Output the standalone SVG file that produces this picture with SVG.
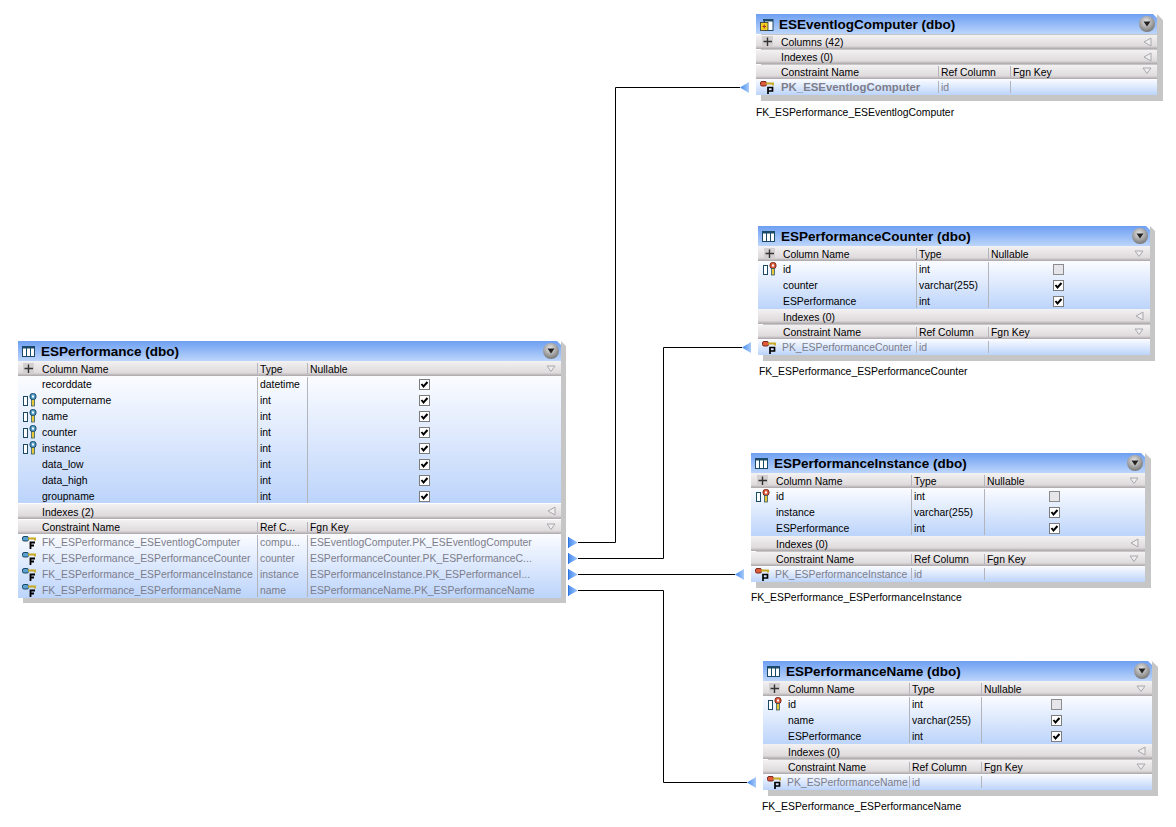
<svg xmlns="http://www.w3.org/2000/svg" xmlns:xlink="http://www.w3.org/1999/xlink" width="1176" height="827" viewBox="0 0 1176 827">
<style>
text{font-family:"Liberation Sans",Arial,sans-serif;font-size:10.4px;fill:#000}
.t{font-weight:bold;font-size:13.5px}
.g{fill:#7d7d8a}
.pk{font-weight:bold;font-size:11.4px;fill:#7d7d8a}
.shadow{fill:#c6c6c6}
.title{fill:url(#gT)}
.bar{fill:url(#gH)}
.body{fill:url(#gB)}
.sep{stroke:#b4b4bc;stroke-width:1;fill:none}
.conn{fill:none;stroke:#000;stroke-width:1}
</style>
<defs>
<linearGradient id="gT" x1="0" y1="0" x2="0" y2="1"><stop offset="0" stop-color="#6d9ff2"/><stop offset="1" stop-color="#bcd5fb"/></linearGradient>
<linearGradient id="gH" x1="0" y1="0" x2="0" y2="1"><stop offset="0" stop-color="#f3f1f2"/><stop offset=".78" stop-color="#dfdbdd"/><stop offset="1" stop-color="#a9a5a8"/></linearGradient>
<linearGradient id="gB" x1="0" y1="0" x2="0" y2="1"><stop offset="0" stop-color="#fbfcff"/><stop offset="1" stop-color="#bcd4fb"/></linearGradient>
<radialGradient id="gBall" cx=".45" cy=".35" r=".7"><stop offset="0" stop-color="#e8e8e8"/><stop offset="1" stop-color="#6f6f6f"/></radialGradient>
<linearGradient id="gA" x1="0" y1="0" x2="1" y2="0"><stop offset="0" stop-color="#3f86ee"/><stop offset="1" stop-color="#a9ccf8"/></linearGradient>
<g id="ball"><circle cx="0" cy="0" r="8" fill="url(#gBall)"/><path d="M-3.5-2.5H3.5L0 2.5Z" fill="#222"/></g>
<g id="tbl"><rect x=".5" y=".5" width="12" height="10" fill="#fff" stroke="#1c4a66"/><rect x="0" y="0" width="13" height="2.5" fill="#1c4a66"/><path d="M4.5 2V11M8.5 2V11" stroke="#1c4a66"/></g>
<g id="plus"><rect x="0" y="0" width="11" height="11" fill="#d4d0d2"/><path d="M5.5 1.5V10M1.5 5.5H10" stroke="#333" stroke-width="1.4"/></g>
<path id="dn" d="M0 0H8L4 5.5Z" fill="#eee" stroke="#a8a8ae"/>
<path id="lf" d="M7 0V8L0 4Z" fill="#eee" stroke="#a8a8ae"/>
<g id="ck"><rect x=".5" y=".5" width="10" height="10" fill="#fff" stroke="#7c7c7c"/><path d="M2.5 5L4.5 7.5L8.5 3" fill="none" stroke="#000" stroke-width="2"/></g>
<g id="unck"><rect x=".5" y=".5" width="10" height="10" fill="#e6e6ea" stroke="#8c8c8c"/></g>
<g id="colk"><rect x=".5" y="3.5" width="4" height="9" fill="#fff" stroke="#1c4a66"/><rect x="7" y=".5" width="6" height="6" rx="2.5" fill="#4f9ac8" stroke="#1c4a66"/><rect x="9" y="2.5" width="2" height="2" fill="#fff"/><rect x="8.5" y="6.5" width="3" height="6.5" fill="#e6c93a" stroke="#1c4a66" stroke-width=".7"/></g>
<g id="colp"><rect x=".5" y="3.5" width="4" height="9" fill="#fff" stroke="#1c4a66"/><rect x="7" y=".5" width="6" height="6" rx="2.5" fill="#e05a3c" stroke="#7a2a1a"/><rect x="9" y="2.5" width="2" height="2" fill="#fff"/><rect x="8.5" y="6.5" width="3" height="6.5" fill="#e6c93a" stroke="#1c4a66" stroke-width=".7"/></g>
<g id="fk"><rect x=".5" y=".5" width="6" height="4.5" rx="1.5" fill="#5aa0d0" stroke="#1c4a66"/><path d="M6 2.5H13V4.5" fill="none" stroke="#c8a820" stroke-width="1.8"/><path d="M8.5 13V6.5H13M8.5 9.5H12" fill="none" stroke="#000" stroke-width="1.8"/></g>
<g id="pk"><rect x=".5" y=".5" width="6" height="4.5" rx="1.5" fill="#e05a3c" stroke="#7a2a1a"/><path d="M6 2.5H13V4.5" fill="none" stroke="#c8a820" stroke-width="1.8"/><path d="M8 13V6.5H12.5V10H8" fill="none" stroke="#000" stroke-width="1.7"/></g>
<g id="arrR"><path d="M0-5.5L10 0L0 5.5Z" fill="url(#gA)"/><path d="M.5-5.5V5.5" stroke="#2f74e0"/></g>
<path id="arrL" d="M9-5.5L0 0L9 5.5Z" fill="url(#gA)"/>
</defs>
<rect width="1176" height="827" fill="#fff"/>
<g id="connectors">
<path class="conn" d="M578 542.5H615.5V87.5H740"/>
<path class="conn" d="M578 558.5H663.5V347.5H742"/>
<path class="conn" d="M578 574.5H735"/>
<path class="conn" d="M578 590.5H663.5V782.5H747"/>
<use xlink:href="#arrR" href="#arrR" x="568" y="542.5"/>
<use xlink:href="#arrR" href="#arrR" x="568" y="558.5"/>
<use xlink:href="#arrR" href="#arrR" x="568" y="574.5"/>
<use xlink:href="#arrR" href="#arrR" x="568" y="590.5"/>
<use xlink:href="#arrL" href="#arrL" x="740" y="87.5"/>
<use xlink:href="#arrL" href="#arrL" x="742" y="347.5"/>
<use xlink:href="#arrL" href="#arrL" x="735" y="574.5"/>
<use xlink:href="#arrL" href="#arrL" x="747" y="782.5"/>
</g>

<g id="ESPerformance">
<path class="shadow" d="M23 346H561V341L566 346V603H23Z"/>
<path class="title" d="M18 341H557L561 345V361H18Z"/>
<rect class="bar" x="18" y="361" width="543" height="15"/>
<rect class="body" x="18" y="376" width="543" height="128"/>
<rect x="18" y="503" width="543" height="1" fill="#fff"/>
<rect class="bar" x="18" y="504" width="543" height="15"/>
<rect x="18" y="519" width="543" height="1" fill="#fff"/>
<rect class="bar" x="18" y="520" width="543" height="14"/>
<rect class="body" x="18" y="534" width="543" height="64"/>
<use href="#tbl" x="22" y="346"/><text class="t" x="41" y="356">ESPerformance (dbo)</text>
<use href="#ball" x="551" y="351"/>
<use href="#plus" x="23" y="363"/>
<text x="42" y="373">Column Name</text><text x="260" y="373">Type</text><text x="310" y="373">Nullable</text>
<use href="#dn" x="547" y="366"/>
<path class="sep" d="M257.5 363V374M307.5 363V374M257.5 377V503M307.5 377V503M257.5 522V532M307.5 522V532M257.5 535V597M307.5 535V597"/>
<text x="42" y="388">recorddate</text><text x="260" y="388">datetime</text>
<text x="42" y="404">computername</text><text x="260" y="404">int</text>
<text x="42" y="420">name</text><text x="260" y="420">int</text>
<text x="42" y="436">counter</text><text x="260" y="436">int</text>
<text x="42" y="452">instance</text><text x="260" y="452">int</text>
<text x="42" y="468">data_low</text><text x="260" y="468">int</text>
<text x="42" y="484">data_high</text><text x="260" y="484">int</text>
<text x="42" y="500">groupname</text><text x="260" y="500">int</text>
<use href="#colk" x="23" y="393"/><use href="#colk" x="23" y="409"/><use href="#colk" x="23" y="425"/><use href="#colk" x="23" y="441"/>
<use href="#ck" x="419" y="379"/><use href="#ck" x="419" y="395"/><use href="#ck" x="419" y="411"/><use href="#ck" x="419" y="427"/><use href="#ck" x="419" y="443"/><use href="#ck" x="419" y="459"/><use href="#ck" x="419" y="475"/><use href="#ck" x="419" y="491"/>
<text x="42" y="516">Indexes (2)</text><use href="#lf" x="548" y="507"/>
<text x="42" y="531">Constraint Name</text><text x="260" y="531">Ref C...</text><text x="310" y="531">Fgn Key</text><use href="#dn" x="547" y="524"/>
<use href="#fk" x="22" y="536"/><use href="#fk" x="22" y="552"/><use href="#fk" x="22" y="568"/><use href="#fk" x="22" y="584"/>
<text class="g" x="42" y="546">FK_ESPerformance_ESEventlogComputer</text><text class="g" x="260" y="546">compu...</text><text class="g" x="310" y="546">ESEventlogComputer.PK_ESEventlogComputer</text>
<text class="g" x="42" y="562">FK_ESPerformance_ESPerformanceCounter</text><text class="g" x="260" y="562">counter</text><text class="g" x="310" y="562">ESPerformanceCounter.PK_ESPerformanceC...</text>
<text class="g" x="42" y="578">FK_ESPerformance_ESPerformanceInstance</text><text class="g" x="260" y="578">instance</text><text class="g" x="310" y="578">ESPerformanceInstance.PK_ESPerformanceI...</text>
<text class="g" x="42" y="594">FK_ESPerformance_ESPerformanceName</text><text class="g" x="260" y="594">name</text><text class="g" x="310" y="594">ESPerformanceName.PK_ESPerformanceName</text>
</g>

<g id="ESEventlogComputer">
<path class="shadow" d="M761 19H1157V14L1163 20V101H761Z"/>
<path class="title" d="M756 14H1153L1157 18V34H756Z"/>
<rect class="bar" x="756" y="35" width="401" height="14"/>
<rect class="bar" x="756" y="50" width="401" height="14"/>
<rect class="bar" x="756" y="65" width="401" height="14"/>
<rect class="body" x="756" y="79" width="401" height="16"/>
<g transform="translate(760,19)"><rect x="4.5" y=".5" width="8.5" height="11" fill="#fff" stroke="#1c4a66"/><rect x="3" y="0" width="10" height="2.5" fill="#1c4a66"/><rect x=".5" y="3.5" width="7.5" height="8" fill="#f0d020" stroke="#333" stroke-width=".8"/><path d="M2.5 7.5H6M4.2 5.5V9.5" stroke="#a02020" stroke-width=".9"/></g>
<text class="t" x="779" y="29">ESEventlogComputer (dbo)</text>
<use href="#ball" x="1147" y="24"/>
<use href="#plus" x="762" y="36"/>
<text x="781" y="46">Columns (42)</text><use href="#lf" x="1144" y="38"/>
<text x="781" y="61">Indexes (0)</text><use href="#lf" x="1144" y="53"/>
<text x="781" y="76">Constraint Name</text><text x="941" y="76">Ref Column</text><text x="1013" y="76">Fgn Key</text><use href="#dn" x="1143" y="68"/>
<path class="sep" d="M938.5 66V77M1010.5 66V77M938.5 81V93M1010.5 81V93"/>
<use href="#pk" x="760" y="81"/>
<text class="pk" x="781" y="91">PK_ESEventlogComputer</text><text class="g" x="941" y="91">id</text>
<text x="756" y="116">FK_ESPerformance_ESEventlogComputer</text>
</g>

<g id="ESPerformanceCounter">
<path class="shadow" d="M763 231H1150V226L1155 231V361H763Z"/>
<path class="title" d="M758 226H1146L1150 230V246H758Z"/>
<rect class="bar" x="758" y="246" width="392" height="15"/>
<rect class="body" x="758" y="261" width="392" height="48"/>
<rect class="bar" x="758" y="309" width="392" height="15"/>
<rect class="bar" x="758" y="325" width="392" height="14"/>
<rect class="body" x="758" y="339" width="392" height="16"/>
<use href="#tbl" x="762" y="231"/><text class="t" x="781" y="241">ESPerformanceCounter (dbo)</text>
<use href="#ball" x="1140" y="236"/>
<use href="#plus" x="764" y="248"/>
<text x="783" y="258">Column Name</text><text x="919" y="258">Type</text><text x="991" y="258">Nullable</text><use href="#dn" x="1135" y="251"/>
<path class="sep" d="M916.5 248V259M988.5 248V259M916.5 262V308M988.5 262V308M916.5 327V337M988.5 327V337M916.5 341V353M988.5 341V353"/>
<text x="783" y="273">id</text><text x="919" y="273">int</text>
<text x="783" y="289">counter</text><text x="919" y="289">varchar(255)</text>
<text x="783" y="305">ESPerformance</text><text x="919" y="305">int</text>
<use href="#colp" x="763" y="262"/>
<use href="#unck" x="1053" y="264"/><use href="#ck" x="1053" y="280"/><use href="#ck" x="1053" y="296"/>
<text x="783" y="321">Indexes (0)</text><use href="#lf" x="1136" y="312"/>
<text x="783" y="336">Constraint Name</text><text x="919" y="336">Ref Column</text><text x="991" y="336">Fgn Key</text><use href="#dn" x="1135" y="329"/>
<use href="#pk" x="762" y="341"/>
<text class="g" x="782" y="351">PK_ESPerformanceCounter</text><text class="g" x="919" y="351">id</text>
<text x="759" y="375">FK_ESPerformance_ESPerformanceCounter</text>
</g>

<g id="ESPerformanceInstance">
<path class="shadow" d="M756 458H1145V453L1151 459V588H756Z"/>
<path class="title" d="M751 453H1141L1145 457V473H751Z"/>
<rect class="bar" x="751" y="473" width="394" height="15"/>
<rect class="body" x="751" y="488" width="394" height="48"/>
<rect class="bar" x="751" y="536" width="394" height="15"/>
<rect class="bar" x="751" y="552" width="394" height="14"/>
<rect class="body" x="751" y="566" width="394" height="16"/>
<use href="#tbl" x="755" y="458"/><text class="t" x="774" y="468">ESPerformanceInstance (dbo)</text>
<use href="#ball" x="1135" y="463"/>
<use href="#plus" x="757" y="475"/>
<text x="776" y="485">Column Name</text><text x="914" y="485">Type</text><text x="987" y="485">Nullable</text><use href="#dn" x="1130" y="478"/>
<path class="sep" d="M911.5 475V486M984.5 475V486M911.5 489V535M984.5 489V535M911.5 554V564M984.5 554V564M911.5 568V580M984.5 568V580"/>
<text x="776" y="500">id</text><text x="914" y="500">int</text>
<text x="776" y="516">instance</text><text x="914" y="516">varchar(255)</text>
<text x="776" y="532">ESPerformance</text><text x="914" y="532">int</text>
<use href="#colp" x="756" y="489"/>
<use href="#unck" x="1049" y="491"/><use href="#ck" x="1049" y="507"/><use href="#ck" x="1049" y="523"/>
<text x="776" y="548">Indexes (0)</text><use href="#lf" x="1131" y="539"/>
<text x="776" y="563">Constraint Name</text><text x="914" y="563">Ref Column</text><text x="987" y="563">Fgn Key</text><use href="#dn" x="1130" y="556"/>
<use href="#pk" x="755" y="568"/>
<text class="g" x="775" y="578">PK_ESPerformanceInstance</text><text class="g" x="914" y="578">id</text>
<text x="751" y="601">FK_ESPerformance_ESPerformanceInstance</text>
</g>

<g id="ESPerformanceName">
<path class="shadow" d="M768 666H1152V661L1158 667V796H768Z"/>
<path class="title" d="M763 661H1148L1152 665V681H763Z"/>
<rect class="bar" x="763" y="681" width="389" height="15"/>
<rect class="body" x="763" y="696" width="389" height="48"/>
<rect class="bar" x="763" y="744" width="389" height="15"/>
<rect class="bar" x="763" y="760" width="389" height="14"/>
<rect class="body" x="763" y="774" width="389" height="16"/>
<use href="#tbl" x="767" y="666"/><text class="t" x="786" y="676">ESPerformanceName (dbo)</text>
<use href="#ball" x="1142" y="671"/>
<use href="#plus" x="769" y="683"/>
<text x="788" y="693">Column Name</text><text x="912" y="693">Type</text><text x="984" y="693">Nullable</text><use href="#dn" x="1137" y="686"/>
<path class="sep" d="M909.5 683V694M981.5 683V694M909.5 697V743M981.5 697V743M909.5 762V772M981.5 762V772M909.5 776V788M981.5 776V788"/>
<text x="788" y="708">id</text><text x="912" y="708">int</text>
<text x="788" y="724">name</text><text x="912" y="724">varchar(255)</text>
<text x="788" y="740">ESPerformance</text><text x="912" y="740">int</text>
<use href="#colp" x="768" y="697"/>
<use href="#unck" x="1051" y="699"/><use href="#ck" x="1051" y="715"/><use href="#ck" x="1051" y="731"/>
<text x="788" y="756">Indexes (0)</text><use href="#lf" x="1138" y="747"/>
<text x="788" y="771">Constraint Name</text><text x="912" y="771">Ref Column</text><text x="984" y="771">Fgn Key</text><use href="#dn" x="1137" y="764"/>
<use href="#pk" x="767" y="776"/>
<text class="g" x="787" y="786">PK_ESPerformanceName</text><text class="g" x="912" y="786">id</text>
<text x="762" y="810">FK_ESPerformance_ESPerformanceName</text>
</g>
</svg>
